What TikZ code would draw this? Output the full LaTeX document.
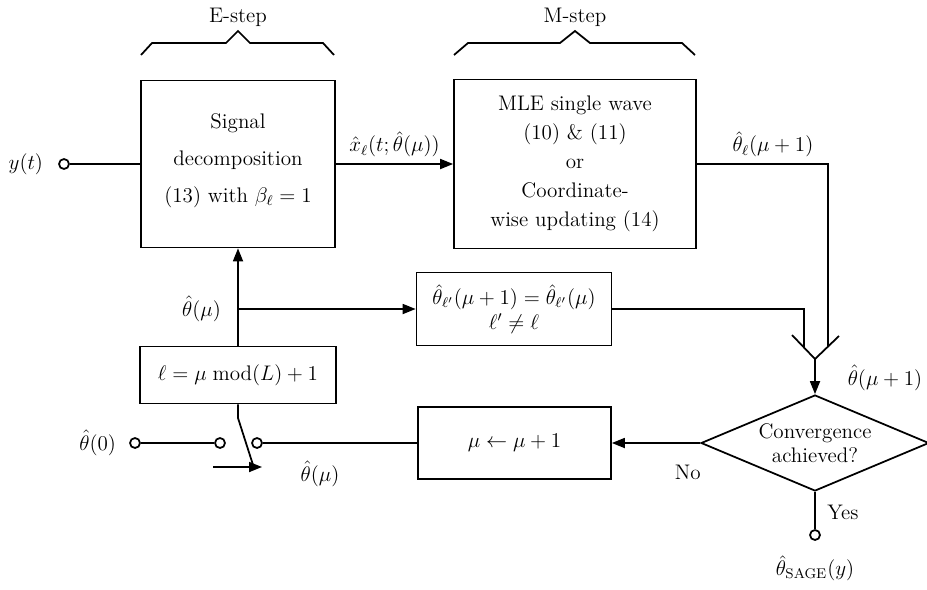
\documentclass[tikz,border=0pt]{standalone}
\usepackage{amsmath}
\usepackage{amssymb}
\usepackage{tikz}
\usetikzlibrary{positioning, arrows.meta, shapes.geometric}
\tikzset{
  >={Triangle[length=2.6mm,width=2mm]},
  wire/.style={line width=1pt},
  block/.style={draw,line width=1pt,align=center,inner sep=2pt},
  port/.style={draw,circle,line width=1pt,fill=white,minimum size=2mm,inner sep=0pt},
  decide/.style={draw,diamond,line width=1pt,aspect=2.4,inner sep=0pt,align=center,
    minimum width=4.56cm,minimum height=1.92cm},
  brace/.style={line width=1pt,line join=miter},
  tag/.style={inner sep=1pt}
}

\begin{document}
\begin{tikzpicture}[x=0.02cm, y=-0.02cm, every node/.style={font=\large}]
  \useasboundingbox (0,0) rectangle (927,589);

  % E-step and M-step
  \node[block,minimum width=3.88cm,minimum height=3.34cm,
        font={\large\setlength{\baselineskip}{21pt}}] (estep) at (238,164)
    {Signal\\decomposition\\(13) with $\beta_\ell=1$\\[-14pt]};
  \node[block,minimum width=4.84cm,minimum height=3.38cm,
        font={\large\setlength{\baselineskip}{16.5pt}}] (mstep) at (575,164)
    {MLE single wave\\(10) \& (11)\\or\\Coordinate-\\wise updating (14)};

  % Braces on top
  \draw[brace] (141,55) -- (152,43) -- (226,43) -- (238,31) -- (250,43) -- (323,43) -- (334,55);
  \draw[brace] (454,55) -- (468,43) -- (560,43) -- (575,31) -- (590,43) -- (682,43) -- (695,55);
  \node at (238,17) {E-step};
  \node at (575,17) {M-step};

  % Other blocks
  \node[block,minimum width=3.9cm,minimum height=1.46cm] (keep) at (514,309)
    {$\hat\theta_{\ell'}(\mu+1)=\hat\theta_{\ell'}(\mu)$\\$\ell'\neq\ell$};
  \node[block,minimum width=3.92cm,minimum height=1.14cm] (sel) at (238,375)
    {$\ell=\mu\;\mathrm{mod}(L)+1$};
  \node[block,minimum width=3.86cm,minimum height=1.44cm] (incr) at (514.5,443)
    {$\mu\leftarrow\mu+1$};
  \node[decide] (conv) at (815,443) {Convergence\\achieved?};

  % Terminals
  \node[port] (yin) at (64,164) {};
  \node[port] (th0) at (135,443) {};
  \node[port] (sw1) at (220,443) {};
  \node[port] (sw2) at (257,443) {};
  \node[port] (sage) at (815,535) {};

  \coordinate (branch) at (238,309);
  \coordinate (blade) at (238,418);
  \coordinate (bladeend) at (254,468);
  \coordinate (tipl) at (213,467);
  \coordinate (tipr) at (262,467);
  \coordinate (larm) at (804,347);
  \coordinate (rarm) at (828,347);
  \coordinate (vl) at (792,335);
  \coordinate (vr) at (839,336);
  \coordinate (join) at (815,359);

  % Signal path
  \draw[wire] (yin) -- (estep.west);
  \draw[wire,->] (estep.east) -- (mstep.west)
    node[midway,above] {$\hat{x}_\ell(t;\hat\theta(\mu))$};
  \draw[wire] (mstep.east) -| (rarm)
    node[pos=0.29,above] {$\hat\theta_\ell(\mu+1)$};
  \draw[wire] (keep.east) -| (larm);
  \draw[wire] (vl) -- (join) -- (vr);
  \draw[wire,->] (join) -- (conv.north);
  \draw[wire,->] (conv.west) -- (incr.east)
    node[pos=0.14,below=3mm] {No};
  \draw[wire] (conv.south) -- (sage);

  % Feedback and switch
  \draw[wire] (incr.west) -- (sw2);
  \draw[wire] (th0) -- (sw1);
  \draw[wire] (sel.south) -- (blade) -- (bladeend);
  \draw[wire,->] (tipl) -- (tipr);
  \draw[wire,->] (sel.north) -- (estep.south);
  \draw[wire,->] (branch) -- (keep.west);

  % Labels
  \node[tag,left=2.6mm of yin] {$y(t)$};
  \node[tag,left=2.2mm of th0] {$\hat\theta(0)$};
  \node[tag] at (320,474) {$\hat\theta(\mu)$};
  \node[tag,left=3mm of branch] {$\hat\theta(\mu)$};
  \node[tag] at (885,378) {$\hat\theta(\mu+1)$};
  \node[tag] at (843,512) {Yes};
  \node[tag,below=2.5mm of sage] {$\hat\theta_{\mathrm{SAGE}}(y)$};

\end{tikzpicture}
\end{document}
